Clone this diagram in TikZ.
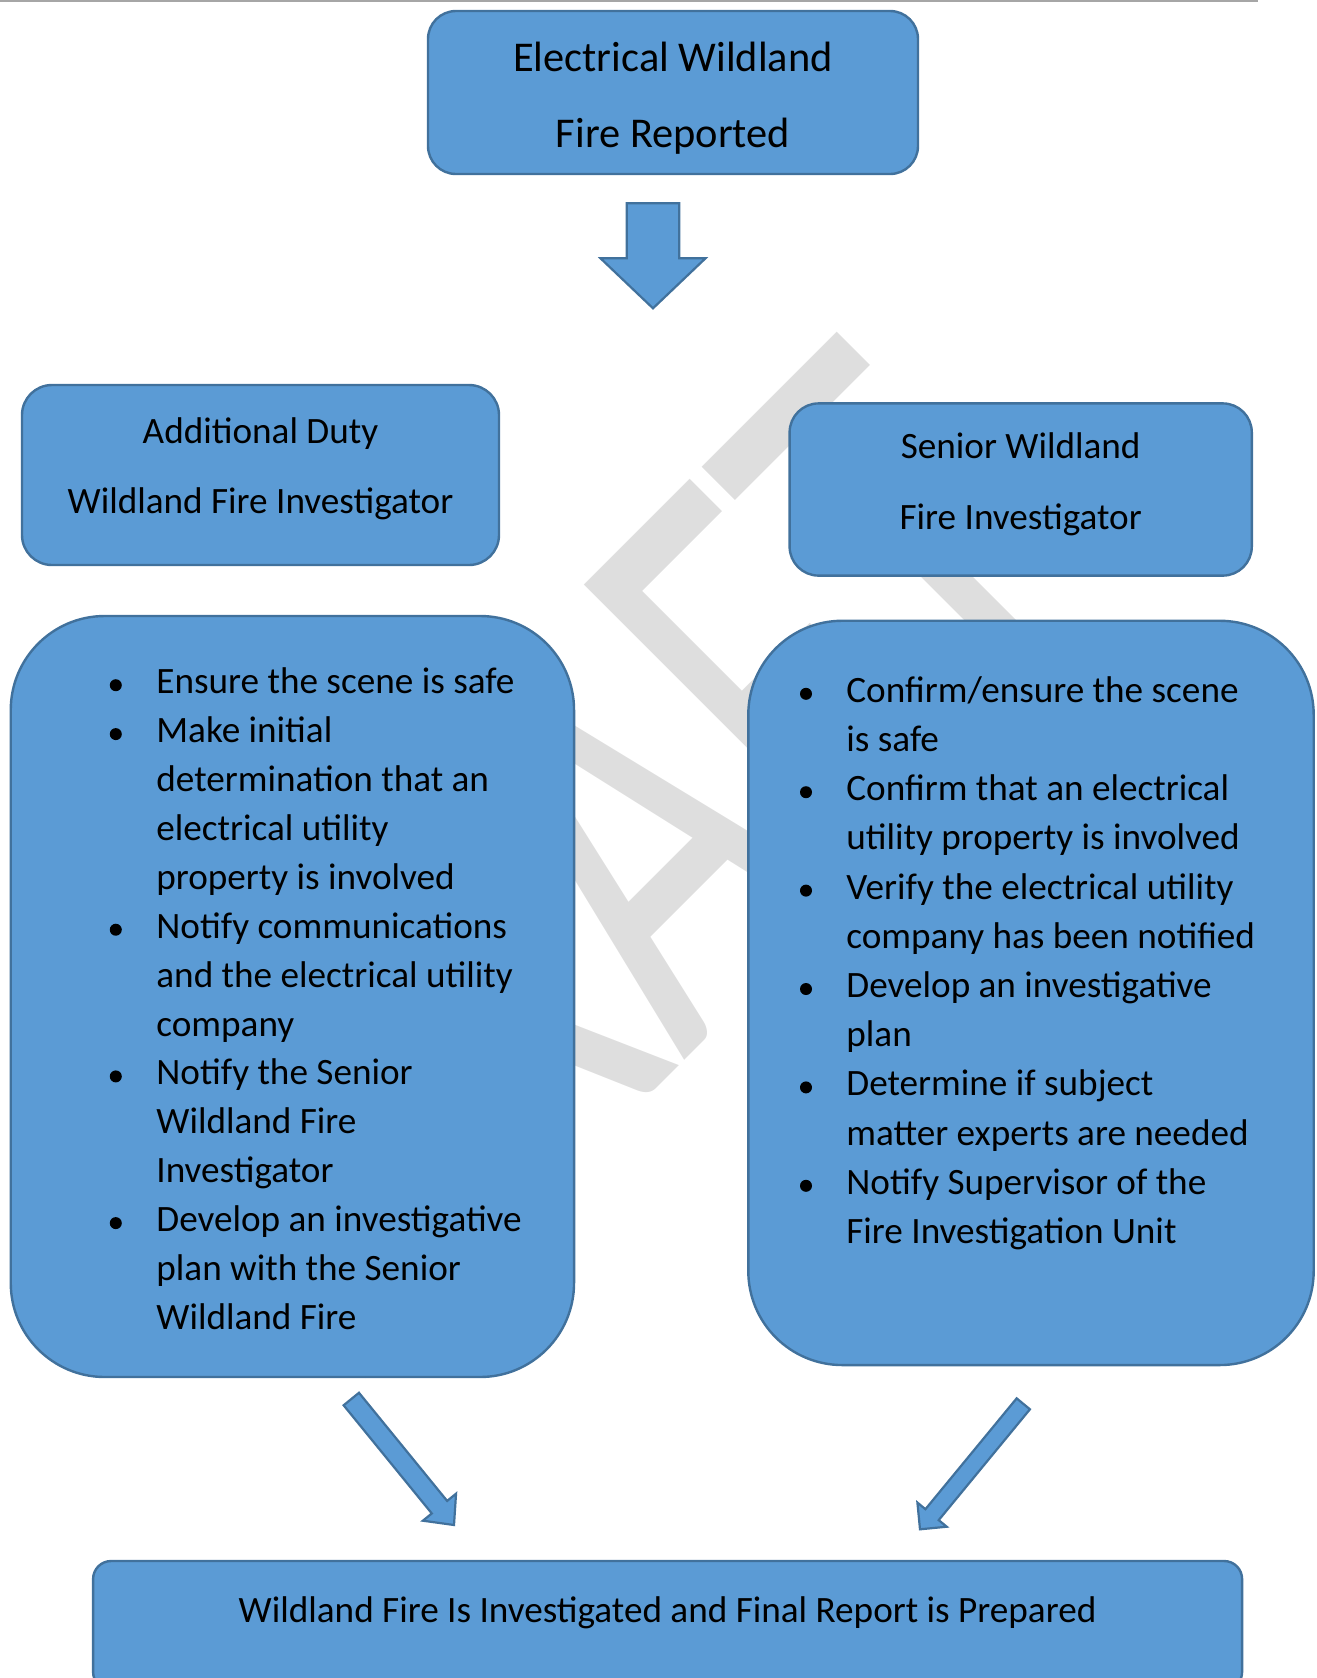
\documentclass[tikz,border=0pt]{standalone}
\usepackage{fontspec}
\setmainfont{Carlito}
\usetikzlibrary{calc}
\definecolor{boxfill}{RGB}{91,155,213}
\definecolor{boxline}{RGB}{65,113,156}
\definecolor{wmark}{RGB}{222,222,222}
\definecolor{rulegray}{RGB}{166,166,166}
\tikzset{
  flowbox/.style={draw=boxline, fill=boxfill, line width=1.2pt, rectangle, inner sep=0pt},
  blockarrow/.style={draw=boxline, fill=boxfill, line width=1.1pt, line join=miter},
  txt/.style={anchor=base, inner sep=0pt, font=\fontsize{18.6pt}{22pt}\selectfont},
  ltxt/.style={anchor=base west, inner sep=0pt, font=\fontsize{18.6pt}{22pt}\selectfont},
  bigtxt/.style={anchor=base, inner sep=0pt, font=\fontsize{21.2pt}{25pt}\selectfont},
  bul/.style={circle, fill=black, inner sep=0pt, minimum size=6pt},
  wm/.style={anchor=base, inner sep=0pt, text=wmark, font=\fontsize{206pt}{206pt}\selectfont, rotate=45, yscale=1.54},
}
\newcommand{\blkarrow}[5]{%
  \path ($(#2)!#5!(#1)$) coordinate (hb);
  \draw[blockarrow] ($(#1)!#3!90:(#2)$) -- ($(hb)!#3!-90:(#1)$) -- ($(hb)!#4!-90:(#1)$) -- (#2)
     -- ($(hb)!#4!90:(#1)$) -- ($(hb)!#3!90:(#1)$) -- ($(#1)!#3!-90:(#2)$) -- cycle;}
\begin{document}
\begin{tikzpicture}[x=0.5pt, y=-0.5pt]
\useasboundingbox (0,0) rectangle (1317,1678);
\clip (0,0) rectangle (1317,1678);
% watermark
\node[wm] (draft) at (737.5,1007.5) {DRAFT};
% top rule
\coordinate (ruleL) at (0,1.2);
\coordinate (ruleR) at (1258,1.2);
\draw[rulegray, line width=1.2pt] (ruleL) -- (ruleR);
% boxes
\node[flowbox, minimum width=245pt, minimum height=81.5pt, rounded corners=14pt] (top) at (673,92.5) {};
\node[flowbox, minimum width=238.5pt, minimum height=90pt, rounded corners=15pt] (ltitle) at (260.5,475) {};
\node[flowbox, minimum width=231.1pt, minimum height=86.1pt, rounded corners=14.5pt] (rtitle) at (1020.7,489.5) {};
\node[flowbox, minimum width=281.65pt, minimum height=380.5pt, rounded corners=47pt] (lbig) at (292.4,996.5) {};
\node[flowbox, minimum width=282.7pt, minimum height=372.15pt, rounded corners=47pt] (rbig) at (1031,992.9) {};
\node[flowbox, minimum width=574.5pt, minimum height=64.5pt, rounded corners=9pt] (final) at (667.6,1625.5) {};
% titles
\node[bigtxt] (t1) at (673,71) {Electrical Wildland};
\node[bigtxt] (t2) at (673,147) {Fire Reported};
\node[txt] (lt1) at (260.5,443) {Additional Duty};
\node[txt] (lt2) at (260.5,513) {Wildland Fire Investigator};
\node[txt] (rt1) at (1020.7,458) {Senior Wildland};
\node[txt] (rt2) at (1020.7,529) {Fire Investigator};
\node[txt] (ft) at (667.6,1622.5) {Wildland Fire Is Investigated and Final Report is Prepared};
% left list
\foreach \t [count=\i] in {Ensure the scene is safe, Make initial, determination that an, electrical utility, property is involved, Notify communications, and the electrical utility, company, Notify the Senior, Wildland Fire, Investigator, Develop an investigative, plan with the Senior, Wildland Fire}
  \node[ltxt] (L\i) at (156,{693.7+(\i-1)*48.9}) {\t};
\foreach \i in {1,2,6,9,12}
  \node[bul] (LB\i) at (115.8,{693.7+(\i-1)*48.9-8.5}) {};
% right list
\foreach \t [count=\i] in {Confirm/ensure the scene, is safe, Confirm that an electrical, utility property is involved, Verify the electrical utility, company has been notified, Develop an investigative, plan, Determine if subject, matter experts are needed, Notify Supervisor of the, Fire Investigation Unit}
  \node[ltxt] (R\i) at (846,{702.3+(\i-1)*49.2}) {\t};
\foreach \i in {1,3,5,7,9,11}
  \node[bul] (RB\i) at (806,{702.3+(\i-1)*49.2-8.5}) {};
% block arrows
\coordinate (dA1) at (653,203.3);
\coordinate (dA2) at (653,308.3);
\coordinate (lA1) at (351.3,1399);
\coordinate (lA2) at (454,1525);
\coordinate (rA1) at (1023.3,1403.8);
\coordinate (rA2) at (920,1529.3);
\blkarrow{dA1}{dA2}{13.15pt}{26.25pt}{25pt}
\blkarrow{lA1}{lA2}{4.95pt}{10.7pt}{11.5pt}
\blkarrow{rA1}{rA2}{4.3pt}{9.5pt}{9.5pt}
\end{tikzpicture}
\end{document}
